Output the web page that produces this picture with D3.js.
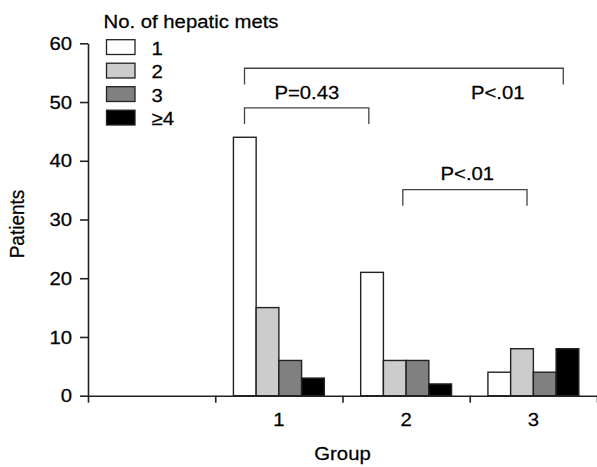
<!DOCTYPE html>
<html>
<head>
<meta charset="utf-8">
<script src="https://cdn.jsdelivr.net/npm/d3@7"></script>
<style>
  body { margin: 0; background: #fff; }
  svg text { font-family: "Liberation Sans", Arial, sans-serif; font-size: 19px; fill: #000; stroke: #000; stroke-width: 0.25px; }
</style>
</head>
<body>
<div id="chart"></div>
<script>
// data
const groups = ["", "1", "2", "3"];
const seriesNames = ["1", "2", "3", "\u22654"];
const seriesColors = ["#ffffff", "#cccccc", "#808080", "#000000"];
const group1 = [44, 15, 6, 3];
const group2 = [21, 6, 6, 2];
const group3 = [4, 8, 4, 8];
const yTicks = [0, 10, 20, 30, 40, 50, 60];
const boundaryTicks = [0, 1, 2, 3, 4];
// significance brackets, x in group units (0..4), y in patients
const bracketFrom = [1.23, 1.23, 2.474];
const bracketTo = [3.735, 2.207, 3.45];
const bracketLevel = [55.75, 49.0, 35.1];
const bracketText = ["P<.01", "P=0.43", "P<.01"];
const bracketTextX = [3.22, 1.72, 2.981];
const bracketTextY = [50.6, 50.6, 36.7];

const width = 597, height = 467;
const mLeft = 88, mRight = 597, mTop = 43.3, mBottom = 395.7;
const stretch = 1.07;   // figure text is a bit wide

let svg = d3.select("#chart").append("svg")
    .attr("width", width)
    .attr("height", height);

let y = d3.scaleLinear().domain([0, 60]).range([mBottom, mTop]);
let xBand = d3.scaleBand().domain(groups).range([mLeft, mRight]);
let xPos = d3.scaleLinear().domain([0, 4]).range([mLeft, mRight]);
let xInner = d3.scaleBand().domain(seriesNames)
    .range([0, xBand.bandwidth()]).paddingOuter(0.8);

let rows = [
    {group: "1", values: group1},
    {group: "2", values: group2},
    {group: "3", values: group3}
];

// bars
let barGroups = svg.selectAll(".grp")
    .data(rows)
    .join("g")
    .attr("class", "grp")
    .attr("transform", d => `translate(${xBand(d.group)},0)`);

barGroups.selectAll("rect")
    .data(d => d.values.map((v, i) => ({name: seriesNames[i], value: v, color: seriesColors[i]})))
    .join("rect")
    .attr("x", d => xInner(d.name))
    .attr("y", d => y(d.value))
    .attr("width", xInner.bandwidth())
    .attr("height", d => y(0) - y(d.value))
    .attr("fill", d => d.color)
    .attr("stroke", "#222")
    .attr("stroke-width", 1.4);

// y axis
let yAxis = svg.append("g")
    .attr("transform", `translate(${mLeft},0)`)
    .call(d3.axisLeft(y).tickValues(yTicks).tickSize(8).tickSizeOuter(0).tickPadding(7));
yAxis.selectAll("text")
    .attr("transform", `scale(${stretch},1)`)
    .attr("x", -16 / stretch);

// x axis: boundary ticks + centred labels
let xAxis = svg.append("g")
    .attr("transform", `translate(0,${mBottom})`)
    .call(d3.axisBottom(xPos).tickValues(boundaryTicks).tickFormat("").tickSize(7).tickSizeOuter(0));

let xLabels = svg.append("g")
    .attr("transform", `translate(0,${mBottom})`)
    .call(d3.axisBottom(xBand).tickSize(0).tickPadding(17));
xLabels.select(".domain").remove();
xLabels.selectAll("text").attr("transform", `scale(${stretch},1)`);

svg.selectAll(".domain, .tick line")
    .attr("stroke", "#222")
    .attr("stroke-width", 1.6);

// axis titles
svg.append("text")
    .attr("transform", `translate(${(mLeft + mRight) / 2},460) scale(${stretch},1)`)
    .attr("text-anchor", "middle")
    .text("Group");

svg.append("text")
    .attr("transform", `translate(24,224) scale(${stretch},1) rotate(-90)`)
    .attr("text-anchor", "middle")
    .text("Patients");

// brackets
let legLen = 2.75;
bracketFrom.forEach((x0, i) => {
    let x1 = bracketTo[i];
    let lv = bracketLevel[i];
    let pts = [[xPos(x0), y(lv - legLen)], [xPos(x0), y(lv)], [xPos(x1), y(lv)], [xPos(x1), y(lv - legLen)]];
    svg.append("path")
        .attr("d", d3.line()(pts))
        .attr("fill", "none")
        .attr("stroke", "#444")
        .attr("stroke-width", 1.3);
    svg.append("text")
        .attr("transform", `translate(${xPos(bracketTextX[i])},${y(bracketTextY[i])}) scale(${stretch},1)`)
        .attr("text-anchor", "middle")
        .text(bracketText[i]);
});

// legend
let legend = svg.append("g");
legend.append("text")
    .attr("transform", `translate(103.5,28.3) scale(${stretch},1)`)
    .text("No. of hepatic mets");

let items = legend.selectAll(".item")
    .data(seriesNames)
    .join("g")
    .attr("class", "item")
    .attr("transform", (d, i) => `translate(106.5,${39.7 + i * 23.5})`);
items.append("rect")
    .attr("width", 28.5)
    .attr("height", 14.8)
    .attr("fill", (d, i) => seriesColors[i])
    .attr("stroke", "#222")
    .attr("stroke-width", 1.3);
items.append("text")
    .attr("transform", `translate(45,14.8) scale(${stretch},1)`)
    .text(d => d);
</script>
</body>
</html>
